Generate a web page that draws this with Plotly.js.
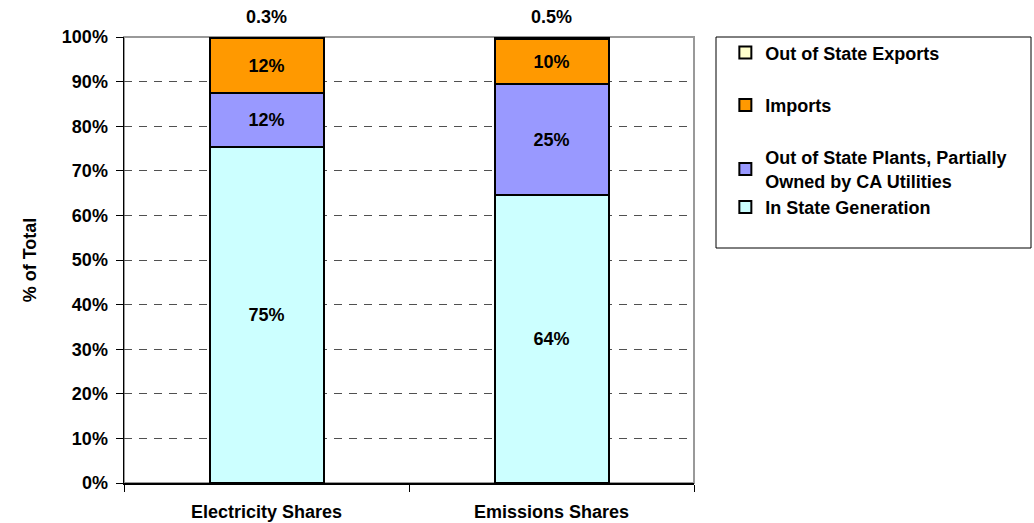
<!DOCTYPE html>
<html><head><meta charset="utf-8">
<script src="https://cdn.plot.ly/plotly-3.0.1.min.js"></script>
<style>html,body{margin:0;padding:0;background:#fff}</style>
</head><body>
<div id="chart" style="width:1034px;height:523px"></div>
<script>
var categories = ["Electricity Shares", "Emissions Shares"];
var inState = [75.3, 64.5];
var outStatePlants = [12.1, 24.9];
var imports = [12.3, 10.1];
var exportsOut = [0.3, 0.5];
var inStateLabels = ["75%", "64%"];
var outStateLabels = ["12%", "25%"];
var importsLabels = ["12%", "10%"];
var exportsLabels = ["0.3%", "0.5%"];
var seriesNames = ["In State Generation", "Out of State Plants, Partially<br>Owned by CA Utilities", "Imports", "Out of State Exports"];
var yTickVals = [0,10,20,30,40,50,60,70,80,90,100];
var yTickText = ["0%","10%","20%","30%","40%","50%","60%","70%","80%","90%","100%"];

var FAM = "Liberation Sans, Arial, sans-serif";
var bold18 = {family: FAM, size: 18, color: "#000", weight: "bold"};
function mk(name, vals, labels, color, grp, rank) {
  return {
    type: "bar", x: categories, y: vals, name: name, legendgroup: grp, legendrank: rank,
    text: labels, textposition: labels ? "inside" : "none", insidetextanchor: "middle",
    textfont: bold18, insidetextfont: bold18, textangle: 0,
    marker: {color: color, line: {color: "#000", width: 2}},
    width: 0.4, hoverinfo: "skip"
  };
}
var traces = [
  mk(seriesNames[0], inState, inStateLabels, "#CCFFFF", "gA", 4),
  mk(seriesNames[1], outStatePlants, outStateLabels, "#9999FF", "gA", 3),
  mk(seriesNames[2], imports, importsLabels, "#FF9900", "gB", 2),
  mk(seriesNames[3], exportsOut, null, "#FFFFCC", "gC", 1)
];
var tops = categories.map(function(c,i){return inState[i]+outStatePlants[i]+imports[i]+exportsOut[i];});
var annotations = categories.map(function(c,i){
  return {x: c, y: tops[i], text: exportsLabels[i], showarrow: false,
    yanchor: "bottom", yshift: 8, font: bold18};
});
var layout = {
  width: 1034, height: 523,
  margin: {l: 124, r: 340, t: 37, b: 40},
  paper_bgcolor: "#fff", plot_bgcolor: "#fff",
  barmode: "stack",
  font: {family: FAM, size: 18, color: "#000"},
  showlegend: true,
  legend: {x: 1.055, y: 1.006, xanchor: "left", yanchor: "top", borderwidth: 0,
    bgcolor: "rgba(0,0,0,0)", traceorder: "grouped", tracegroupgap: 26, itemwidth: 30,
    font: bold18},
  xaxis: {type: "category", showline: true, linecolor: "#000", linewidth: 1.5,
    ticks: "outside", tickson: "boundaries", ticklen: 7, tickcolor: "#000",
    ticklabelstandoff: 12, tickfont: bold18, showgrid: false},
  yaxis: {range: [0, 100], tickvals: yTickVals, ticktext: yTickText, showline: true,
    linecolor: "#000", linewidth: 1.5, ticks: "outside", ticklen: 7, tickcolor: "#000",
    ticklabelstandoff: 4,
    showgrid: true, gridcolor: "#505050", griddash: "8px,7px", gridwidth: 1, zeroline: false,
    tickfont: bold18,
    title: {text: "% of Total", standoff: 20, font: bold18}},
  shapes: [
    {type: "rect", xref: "x domain", yref: "y domain", x0: 0, x1: 1, y0: 0, y1: 1,
      line: {color: "#999999", width: 2}, layer: "below"},
    {type: "rect", xref: "paper", yref: "paper", x0: (716-124)/570, x1: (1031-124)/570,
      y0: (483-248)/446, y1: 1, line: {color: "#000", width: 1}, fillcolor: "rgba(0,0,0,0)", layer: "above"}
  ],
  annotations: annotations
};
Plotly.newPlot("chart", traces, layout, {staticPlot: true});
</script>
</body></html>
